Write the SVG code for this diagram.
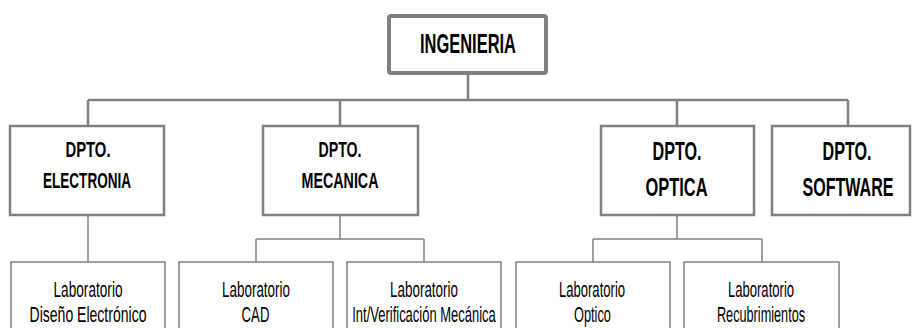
<svg xmlns="http://www.w3.org/2000/svg" width="913" height="328" viewBox="0 0 913 328">
<style>
.box{fill:#fff;stroke:#808080}
.top{stroke-width:4}
.dept{stroke-width:2.5}
.lab{stroke-width:1.5}
.conn{fill:none;stroke:#808080}
.b{font-family:"Liberation Sans",Arial,sans-serif;font-weight:bold;fill:#000;text-anchor:middle}
.r{font-family:"Liberation Sans",Arial,sans-serif;fill:#000;text-anchor:middle;font-size:22px}
</style>
<rect width="913" height="328" fill="#fff"/>
<g id="connectors">
<path class="conn" stroke-width="2.5" d="M468 75V100M88 100H848M88 100V125M340 100V125M677 100V125M848 100V125"/>
<path class="conn" stroke-width="1.5" d="M88 216V262M340 216V239M256 239H424M256 239V262M424 239V262M677 216V239M593 239H762M593 239V262M762 239V262"/>
</g>
<g id="ingenieria">
<rect class="box top" x="389" y="16" width="157" height="57" rx="2"/>
<text class="b" x="468" y="53" font-size="27" textLength="96" lengthAdjust="spacingAndGlyphs">INGENIERIA</text>
</g>
<g id="dpto-electronia">
<rect class="box dept" x="10" y="126" width="154" height="89"/>
<text class="b" x="88" y="157" font-size="22.5" textLength="45" lengthAdjust="spacingAndGlyphs">DPTO.</text>
<text class="b" x="87" y="188" font-size="22.5" textLength="88" lengthAdjust="spacingAndGlyphs">ELECTRONIA</text>
</g>
<g id="dpto-mecanica">
<rect class="box dept" x="263" y="126" width="155" height="89"/>
<text class="b" x="340" y="157" font-size="22.5" textLength="43" lengthAdjust="spacingAndGlyphs">DPTO.</text>
<text class="b" x="340" y="188" font-size="22.5" textLength="77" lengthAdjust="spacingAndGlyphs">MECANICA</text>
</g>
<g id="dpto-optica">
<rect class="box dept" x="601" y="126" width="153" height="89"/>
<text class="b" x="677" y="160" font-size="25.5" textLength="49" lengthAdjust="spacingAndGlyphs">DPTO.</text>
<text class="b" x="676.5" y="195.5" font-size="25.5" textLength="62" lengthAdjust="spacingAndGlyphs">OPTICA</text>
</g>
<g id="dpto-software">
<rect class="box dept" x="772" y="126" width="138" height="89"/>
<text class="b" x="847" y="160" font-size="25.5" textLength="49" lengthAdjust="spacingAndGlyphs">DPTO.</text>
<text class="b" x="0" y="0" font-size="25.5" transform="translate(848 195.5) scale(0.63 1)">SOFTWARE</text>
</g>
<g id="lab-diseno">
<rect class="box lab" x="11" y="262" width="154" height="80"/>
<text class="r" x="0" y="0" transform="translate(88 297) scale(0.62 1)">Laboratorio</text>
<text class="r" x="0" y="0" transform="translate(88 322) scale(0.638 1)">Diseño Electrónico</text>
</g>
<g id="lab-cad">
<rect class="box lab" x="179" y="262" width="154" height="80"/>
<text class="r" x="0" y="0" transform="translate(256 297) scale(0.61 1)">Laboratorio</text>
<text class="r" x="0" y="0" transform="translate(255.5 322) scale(0.6 1)">CAD</text>
</g>
<g id="lab-verificacion">
<rect class="box lab" x="347" y="262" width="154" height="80"/>
<text class="r" x="0" y="0" transform="translate(424 297) scale(0.61 1)">Laboratorio</text>
<text class="r" x="0" y="0" transform="translate(424 322) scale(0.59 1)">Int/Verificación Mecánica</text>
</g>
<g id="lab-optico">
<rect class="box lab" x="516" y="262" width="154" height="80"/>
<text class="r" x="0" y="0" transform="translate(592 297) scale(0.595 1)">Laboratorio</text>
<text class="r" x="0" y="0" transform="translate(592.5 322) scale(0.58 1)">Optico</text>
</g>
<g id="lab-recubrimientos">
<rect class="box lab" x="684" y="262" width="155" height="80"/>
<text class="r" x="0" y="0" transform="translate(761 297) scale(0.595 1)">Laboratorio</text>
<text class="r" x="0" y="0" transform="translate(761 322) scale(0.577 1)">Recubrimientos</text>
</g>
</svg>
